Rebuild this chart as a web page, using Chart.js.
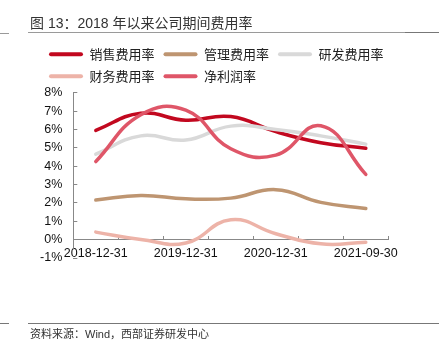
<!DOCTYPE html>
<html><head><meta charset="utf-8">
<script src="https://cdn.jsdelivr.net/npm/chart.js@4/dist/chart.umd.min.js"></script>
<style>
html,body{margin:0;padding:0;background:#fff;}
body{width:439px;height:353px;overflow:hidden;position:relative;}
#c{position:absolute;left:0;top:0;}
.txt{position:absolute;white-space:nowrap;color:#333;font-family:"Liberation Sans","Noto Sans CJK SC",sans-serif;}
.title{left:30px;top:12px;font-size:14px;}
.src{left:30px;top:325px;font-size:11px;}
.ln{position:absolute;height:1px;background:#9a9a9a;}
</style></head>
<body>
<canvas id="c" width="439" height="353"></canvas>
<div class="txt title">图 13：2018 年以来公司期间费用率</div>
<div class="ln" style="left:0;width:9px;top:33px;"></div>
<div class="ln" style="left:28px;width:377px;top:32px;"></div>
<div class="ln" style="left:405px;width:34px;top:32px;background:#777;"></div>
<div class="ln" style="left:0;width:9px;top:323px;background:#777;"></div>
<div class="ln" style="left:28px;width:411px;top:323px;background:#777;"></div>
<div class="txt src">资料来源：Wind，西部证券研发中心</div>
<script>
const categories = ['2018-12-31','2019-06-30','2019-12-31','2020-06-30','2020-12-31','2021-06-30','2021-09-30'];
const salesRate   = [5.95, 6.88, 6.50, 6.70, 5.88, 5.28, 4.98];
const adminRate   = [2.16, 2.40, 2.22, 2.26, 2.72, 2.03, 1.70];
const rdRate      = [4.65, 5.65, 5.42, 6.18, 6.00, 5.65, 5.20];
const financeRate = [0.41, 0.01, -0.18, 1.08, 0.32, -0.23, -0.14];
const netMargin   = [4.25, 6.80, 7.05, 4.95, 4.60, 6.20, 3.55];
const seriesNames = ['销售费用率','管理费用率','研发费用率','财务费用率','净利润率'];
const seriesColors = ['#C2081F','#BE9571','#D9D9D9','#EDB3A8','#DF5668'];
const yMin = -1, yMax = 8, yStep = 1;

const seriesData = [salesRate, adminRate, rdRate, financeRate, netMargin];

const axisPlugin = {
  id: 'yAxisLine',
  beforeDatasetsDraw(chart) {
    const ctx = chart.ctx, y = chart.scales.y, x0 = chart.chartArea.left;
    ctx.save();
    ctx.strokeStyle = '#888';
    ctx.lineWidth = 1;
    ctx.beginPath();
    ctx.moveTo(Math.round(x0) + 0.5, y.getPixelForValue(yMax));
    ctx.lineTo(Math.round(x0) + 0.5, y.getPixelForValue(-0.5));
    ctx.stroke();
    ctx.restore();
  }
};

new Chart(document.getElementById('c'), {
  type: 'line',
  data: {
    labels: categories,
    datasets: seriesData.map((d, i) => ({
      label: seriesNames[i],
      data: d,
      borderColor: seriesColors[i],
      backgroundColor: seriesColors[i],
      borderWidth: 3.5,
      tension: 0.45,
      pointRadius: 0,
      borderCapStyle: 'round',
      borderJoinStyle: 'round',
      fill: false,
      order: seriesData.length - 1 - i
    }))
  },
  options: {
    responsive: false,
    animation: false,
    devicePixelRatio: 1,
    layout: { padding: { left: 40, right: 20, top: 38.7, bottom: 95 } },
    plugins: {
      tooltip: { enabled: false },
      legend: {
        position: 'top',
        align: 'start',
        labels: {
          boxWidth: 34,
          boxHeight: 4,
          padding: 9,
          color: '#222',
          font: { family: '"Noto Sans CJK SC"', size: 13 },
          useBorderRadius: true,
          borderRadius: 2,
          sort: (a, b) => a.datasetIndex - b.datasetIndex,
          generateLabels: (chart) => Chart.defaults.plugins.legend.labels.generateLabels(chart).map(l => Object.assign(l, { lineWidth: 0 }))
        }
      }
    },
    scales: {
      x: {
        type: 'category',
        position: { y: 0 },
        offset: true,
        grid: { offset: true, drawOnChartArea: false, tickLength: -4, color: '#888' },
        border: { display: true, color: '#888', width: 1 },
        ticks: {
          autoSkip: false,
          maxRotation: 0,
          padding: 10,
          color: '#111',
          font: { family: '"Liberation Sans"', size: 12.5 },
          callback: (v, i) => (i % 2 === 0 ? categories[i] : '')
        },
        afterFit: (s) => { s.height = 20; }
      },
      y: {
        min: yMin, max: yMax,
        grid: { drawOnChartArea: false, tickLength: -4, color: '#888' },
        border: { display: false },
        ticks: {
          stepSize: yStep,
          padding: 15,
          color: '#111',
          font: { family: '"Liberation Sans"', size: 12.5 },
          callback: (v) => v + '%'
        },
        afterFit: (s) => { s.width = 33.3; }
      },
      yR: {
        type: 'linear', position: 'right', min: yMin, max: yMax,
        grid: { display: false }, border: { display: false },
        ticks: { display: false },
        afterFit: (s) => { s.width = 30.7; }
      }
    }
  },
  plugins: [axisPlugin]
});
</script>
</body></html>
